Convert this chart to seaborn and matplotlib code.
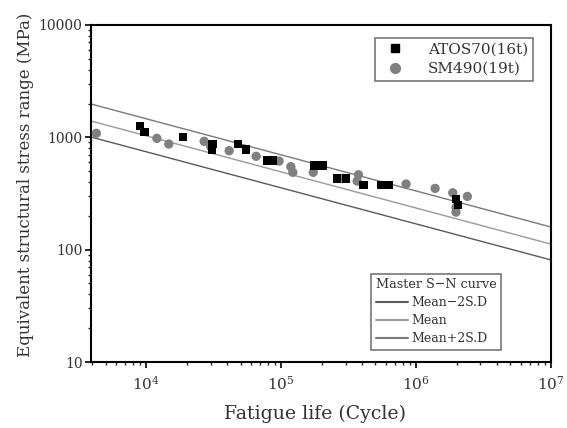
import numpy as np
import pandas as pd
import matplotlib
matplotlib.use("Agg")
import matplotlib.pyplot as plt
import seaborn as sns
from matplotlib.lines import Line2D

# ---- data ----
atos_life = [9030, 9710, 18700, 31000, 30700, 47800, 55000, 79200, 86900,
             176700, 202400, 258700, 303000, 407000, 551000, 624000,
             1977000, 2055000]
atos_stress = [1262, 1122, 1000, 872, 771, 872, 781, 624, 624,
               563, 563, 431, 431, 374, 374, 374, 282, 251]

sm_life = [4270, 12000, 14700, 26900, 30100, 41200, 65300, 96600, 118000,
           122000, 173000, 286000, 374000, 366000, 843000, 1384000,
           1870000, 2399000, 1977000, 1977000]
sm_stress = [1086, 979, 872, 921, 825, 760, 678, 615, 548,
             488, 488, 431, 465, 408, 384, 351, 321, 298, 238, 216]

curve_life = [3900, 1e7]
curve_minus = [1006, 81]
curve_mean = [1397, 112]
curve_plus = [1980, 159]

series_labels = ["ATOS70(16t)", "SM490(19t)"]
curve_labels = ["Mean\u22122S.D", "Mean", "Mean+2S.D"]

# ---- figure ----
sns.set_style("ticks")
plt.rcParams["font.family"] = ["DejaVu Serif"]
plt.rcParams["mathtext.fontset"] = "dejavuserif"

fig = plt.figure(figsize=(5.67, 4.28), dpi=100)
ax = fig.add_axes([0.1605, 0.1542, 0.8113, 0.7874])

curves = pd.DataFrame({
    "life": curve_life * 3,
    "stress": curve_minus + curve_mean + curve_plus,
    "curve": [curve_labels[0]] * 2 + [curve_labels[1]] * 2 + [curve_labels[2]] * 2,
})
curve_colors = {curve_labels[0]: "#5a5a5a", curve_labels[1]: "#9a9a9a",
                curve_labels[2]: "#7a7a7a"}
sns.lineplot(data=curves, x="life", y="stress", hue="curve",
             palette=curve_colors, linewidth=1.0, ax=ax, legend=False,
             estimator=None, sort=False)

pts = pd.DataFrame({
    "life": atos_life + sm_life,
    "stress": atos_stress + sm_stress,
    "steel": [series_labels[0]] * len(atos_life) + [series_labels[1]] * len(sm_life),
})
sns.scatterplot(data=pts[pts.steel == series_labels[1]], x="life", y="stress",
                color="#808080", marker="o", s=45, edgecolor="none", ax=ax,
                legend=False, zorder=3)
sns.scatterplot(data=pts[pts.steel == series_labels[0]], x="life", y="stress",
                color="black", marker="s", s=36, edgecolor="none", ax=ax,
                legend=False, zorder=4)

ax.set_xscale("log")
ax.set_yscale("log")
ax.set_xlim(3900, 1e7)
ax.set_ylim(10, 10000)

ax.set_yticks([10, 100, 1000, 10000])
ax.set_yticklabels(["10", "100", "1000", "10000"])
ax.set_xticks([1e4, 1e5, 1e6, 1e7])
ax.set_xticklabels([r"$10^{4}$", r"$10^{5}$", r"$10^{6}$", r"$10^{7}$"])
ax.tick_params(axis="both", which="major", direction="out", length=4,
               width=1.2, labelsize=10, colors="black", labelcolor="#333333",
               pad=2)
ax.tick_params(axis="x", which="major", labelsize=11, pad=5)
ax.tick_params(axis="both", which="minor", direction="out", length=2.5,
               width=1.0)
for sp in ax.spines.values():
    sp.set_linewidth(1.5)
    sp.set_color("black")

ax.set_xlabel("Fatigue life (Cycle)", fontsize=13.6, color="#333333")
ax.xaxis.set_label_coords(0.488, -0.128)
ax.set_ylabel("Equivalent structural stress range (MPa)", fontsize=12,
              color="#333333")
ax.yaxis.set_label_coords(-0.125, 0.527)

# legends
h1 = [Line2D([], [], marker="s", color="black", linestyle="none", markersize=6),
      Line2D([], [], marker="o", color="#808080", linestyle="none", markersize=7)]
leg1 = ax.legend(h1, series_labels, loc="upper right",
                 bbox_to_anchor=(0.961, 0.961), borderaxespad=0,
                 fontsize=11, frameon=True,
                 fancybox=False, edgecolor="#555555", handletextpad=1.2,
                 borderpad=0.3, labelspacing=0.35, markerfirst=True)
leg1.get_frame().set_linewidth(1.2)
for t in leg1.get_texts():
    t.set_color("#333333")
ax.add_artist(leg1)

h2 = [Line2D([], [], color=curve_colors[c], linewidth=1.5) for c in curve_labels]
leg2 = ax.legend(h2, curve_labels, title="Master S\u2212N curve",
                 loc="lower right", bbox_to_anchor=(0.891, 0.036),
                 borderaxespad=0,
                 fontsize=9, title_fontsize=9.2, frameon=True,
                 fancybox=False, edgecolor="#555555", handlelength=2.6,
                 handletextpad=0.25, borderpad=0.35, labelspacing=0.4,
                 alignment="left")
leg2.get_frame().set_linewidth(1.2)
for t in leg2.get_texts():
    t.set_color("#333333")
leg2.get_title().set_color("#333333")

fig.savefig("out.png", dpi=100)
